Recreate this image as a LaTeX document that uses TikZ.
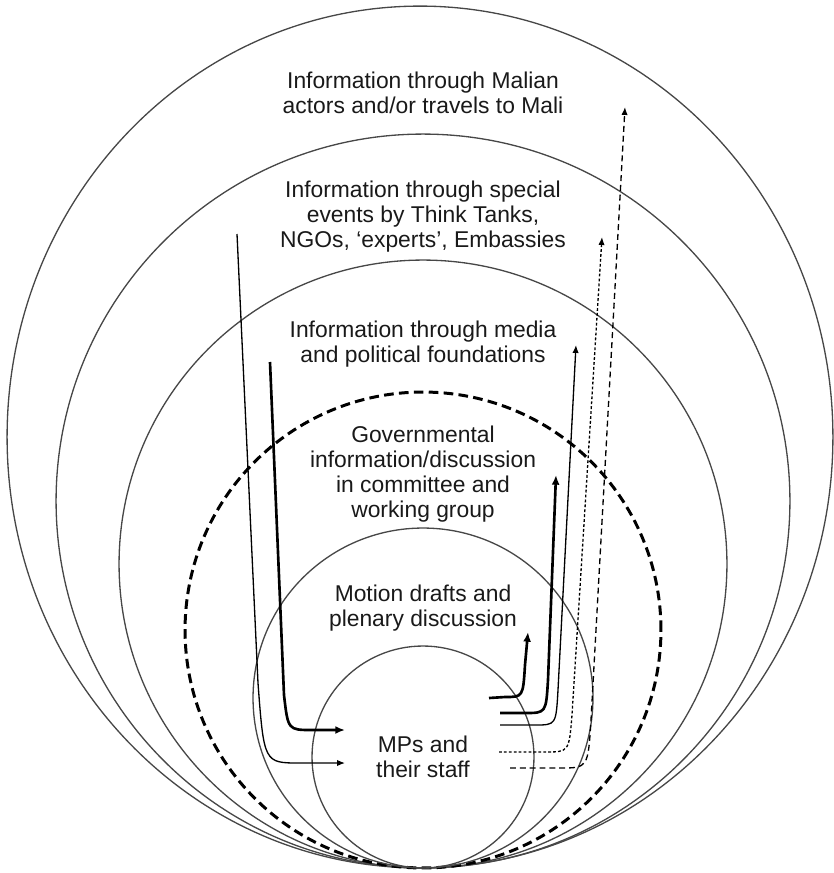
\documentclass[tikz,border=0pt]{standalone}
\usepackage{fontspec}
\setmainfont{Liberation Sans}
\usetikzlibrary{shapes.geometric,arrows.meta,positioning}

\tikzset{
  ring/.style={draw=cring, line width=0.75pt, circle, inner sep=0pt, outer sep=0pt},
  ringtext/.style={align=center, text=ctext, font=\fontsize{13}{14.2}\selectfont},
  flow/.style={-{Latex[length=4.5pt,width=3.6pt]}, line width=0.75pt},
  boldflow/.style={-{Latex[length=5.5pt,width=4.5pt]}, line width=1.5pt},
  dotflow/.style={flow, dash pattern=on 1.6pt off 1.2pt},
  dashflow/.style={flow, dash pattern=on 3.4pt off 2.2pt},
}

\begin{document}
\begin{tikzpicture}[x=0.02cm, y=-0.02cm]
%
\useasboundingbox (0,0) rectangle (833,873);
%
\definecolor{cring}{rgb}{0.28,0.28,0.28}
\definecolor{ctext}{rgb}{0.1,0.1,0.1}
%
% nested circles, all touching at the bottom
\node[ring, ellipse, minimum width=16.52cm, minimum height=17.24cm] (mali) at (420,437) {};
\node[ring, minimum size=14.68cm] (events) at (423,501) {};
\node[ring, minimum size=12.16cm] (media) at (423,564) {};
\node[ring, draw=black, line width=1.7pt, dash pattern=on 5.5pt off 3pt, minimum size=9.52cm] (gov) at (423,630) {};
\node[ring, minimum size=6.8cm] (motion) at (423,698) {};
\node[ring, minimum size=4.44cm] (mps) at (423,757) {};
%
% ring texts
\node[ringtext] (tmali) at (423,93) {Information through Malian\\actors and/or travels to Mali};
\node[ringtext] (tevents) at (423,217) {Information through special\\events by Think Tanks,\\NGOs, `experts', Embassies};
\node[ringtext] (tmedia) at (423,344) {Information through media\\and political foundations};
\node[ringtext] (tgov) at (423,474) {Governmental\\information/discussion\\in committee and\\working group};
\node[ringtext] (tmotion) at (423,608) {Motion drafts and\\plenary discussion};
\node[ringtext] (tmps) at (423,757) {MPs and\\their staff};
%
% incoming
\coordinate (inEvS) at (237,234);
\coordinate (inEvE) at (345,763);
\coordinate (inMeS) at (270,362);
\coordinate (inMeE) at (345,730);
\draw[flow] (inEvS) -- (258,683) .. controls (264,763) .. (300,763) -- (inEvE);
\draw[boldflow] (inMeS) -- (284,695) .. controls (288,730) .. (312,730) -- (inMeE);
%
% outgoing
\coordinate (outMoS) at (489,698);
\coordinate (outMoE) at (528,632);
\coordinate (outGoS) at (500,713);
\coordinate (outGoE) at (556,475);
\coordinate (outMeS) at (500,725);
\coordinate (outMeE) at (576,345);
\coordinate (outEvS) at (499,752);
\coordinate (outEvE) at (602,237);
\coordinate (outMaS) at (510,768);
\coordinate (outMaE) at (625,107);
\draw[boldflow] (outMoS) -- (505,697) .. controls (523,697) .. (525,665) -- (outMoE);
\draw[boldflow] (outGoS) -- (525,713) .. controls (546,713) .. (548,680) -- (outGoE);
\draw[flow] (outMeS) -- (535,725) .. controls (556,725) .. (558,690) -- (outMeE);
\draw[dotflow] (outEvS) -- (545,752) .. controls (569,752) .. (572,715) -- (outEvE);
\draw[dashflow] (outMaS) -- (560,768) .. controls (588,768) .. (591,720) -- (outMaE);
%
\end{tikzpicture}
\end{document}
